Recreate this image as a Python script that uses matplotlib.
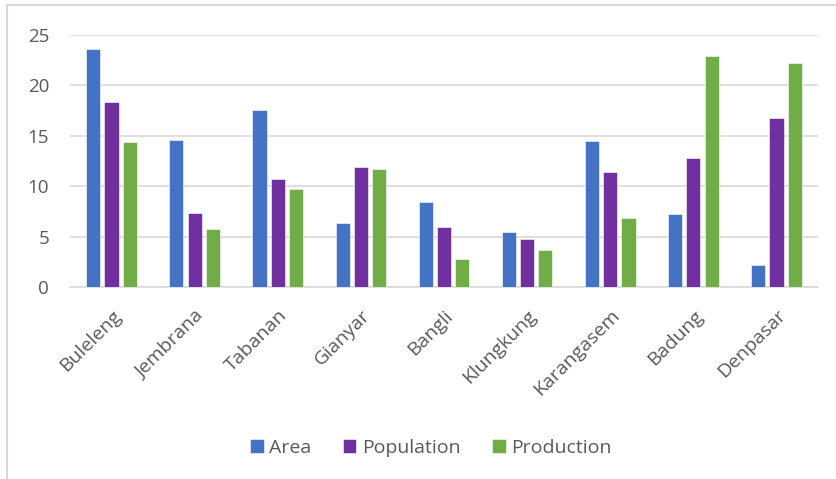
import numpy as np
import matplotlib.pyplot as plt
from matplotlib.lines import Line2D

regencies = ["Buleleng", "Jembrana", "Tabanan", "Gianyar", "Bangli",
             "Klungkung", "Karangasem", "Badung", "Denpasar"]
area = [23.6, 14.6, 17.55, 6.35, 8.45, 5.45, 14.5, 7.25, 2.2]
population = [18.35, 7.35, 10.7, 11.95, 5.95, 4.8, 11.4, 12.75, 16.8]
production = [14.4, 5.75, 9.7, 11.7, 2.8, 3.65, 6.8, 22.95, 22.2]

colors = ["#4472C4", "#7030A0", "#70AD47"]
grey = "#595959"

plt.rcParams['font.family'] = ['Open Sans', 'DejaVu Sans']

fig = plt.figure(figsize=(8.36, 4.79), dpi=100)
ax = fig.add_axes([70/836, 192/479, 748/836, 252/479])

x = np.arange(len(regencies))
w = 0.17
step = 0.22
for i, (vals, name) in enumerate(zip([area, population, production],
                                     ["Area", "Population", "Production"])):
    ax.bar(x + (i - 1) * step, vals, width=w, color=colors[i], label=name,
           edgecolor="white", linewidth=0.4, zorder=3)

ax.set_xlim(-0.5, len(regencies) - 0.5)
ax.set_ylim(0, 25)
ax.set_yticks([0, 5, 10, 15, 20, 25])
ax.yaxis.grid(True, color="#D9D9D9", linewidth=1.2, zorder=0)
for s in ["top", "right", "left"]:
    ax.spines[s].set_visible(False)
ax.spines["bottom"].set_color("#D9D9D9")
ax.spines["bottom"].set_linewidth(1.2)
ax.tick_params(axis="y", length=0, labelsize=13.5, colors=grey, pad=15)
ax.set_xticks(x)
ax.set_xticklabels(regencies, rotation=45, ha="right", rotation_mode="anchor")
ax.tick_params(axis="x", length=0, labelsize=14, colors=grey, pad=14)

leg = ax.legend(loc="center", bbox_to_anchor=(431/836, 31/479),
                bbox_transform=fig.transFigure, ncol=3, frameon=False,
                fontsize=14, handlelength=0.7, handleheight=0.7,
                handletextpad=0.3, columnspacing=1.6, labelcolor=grey)

# light frame around the chart area
fig.add_artist(Line2D([6.5/836, 6.5/836], [0, 474/479], color="#D9D9D9",
                      linewidth=1.5, transform=fig.transFigure))
fig.add_artist(Line2D([6.5/836, 1], [474/479, 474/479], color="#D9D9D9",
                      linewidth=1.5, transform=fig.transFigure))

fig.savefig("out.png", dpi=100)
